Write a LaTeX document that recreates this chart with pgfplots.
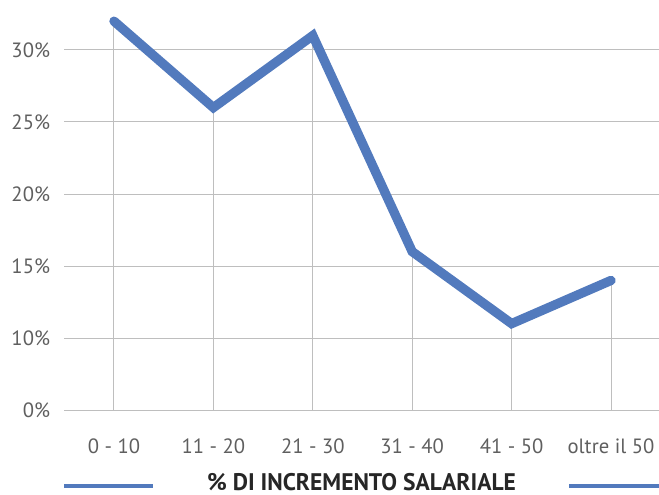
\documentclass[border=0pt]{standalone}
\usepackage{pgfplots}
\pgfplotsset{compat=1.18}
\usepackage{fontspec}
\setmainfont{PT Sans}
\newfontfamily\titlefont[FakeStretch=0.98]{PT Sans}
\definecolor{lineblue}{RGB}{82,122,189}
\definecolor{gridgray}{RGB}{190,190,190}
\definecolor{labgray}{RGB}{95,95,95}
\begin{document}
\begin{tikzpicture}
\begin{axis}[
  scale only axis, width=445.8pt, height=307.5pt,
  xmin=-0.5, xmax=5.48, ymin=5, ymax=33.47,
  axis line style={draw=none},
  major tick length=0pt,
  xtick={0,1,2,3,4,5},
  xticklabels={0 - 10, 11 - 20, 21 - 30, 31 - 40, 41 - 50, oltre il 50},
  ytick={5,10,15,20,25,30},
  yticklabels={0\%,10\%,15\%,20\%,25\%,30\%},
  ymajorgrids, grid style={gridgray, line width=0.75pt},
  tick label style={font=\fontsize{15.5}{18}\selectfont, text=labgray},
  yticklabel style={inner sep=0pt, anchor=base east, xshift=-10.5pt, yshift=-5.5pt},
  xticklabel style={inner sep=0pt, anchor=base, yshift=-32.25pt},
]
\addplot[ycomb, draw=gridgray, line width=0.75pt, no marks] coordinates {(0,32) (1,26) (2,31) (3,16) (4,11) (5,14)};
\addplot[lineblue, line width=7pt, line cap=round, line join=miter, no marks] coordinates {(0,32) (1,26) (2,31) (3,16) (4,11) (5,14)};
\end{axis}
\pgfresetboundingbox
\path[use as bounding box] (-48.2pt,-63pt) rectangle (446pt,307.5pt);
\draw[lineblue, line width=2.5pt] (-0.2pt,-57pt) -- (66.5pt,-57pt);
\draw[lineblue, line width=2.5pt] (378.5pt,-57pt) -- (446pt,-57pt);
\node[anchor=base, inner sep=0pt, text depth=0pt, text=black!85, font=\titlefont\bfseries\fontsize{18}{20}\selectfont] at (222.9pt,-60.5pt) {\% DI INCREMENTO SALARIALE};
\end{tikzpicture}
\end{document}
